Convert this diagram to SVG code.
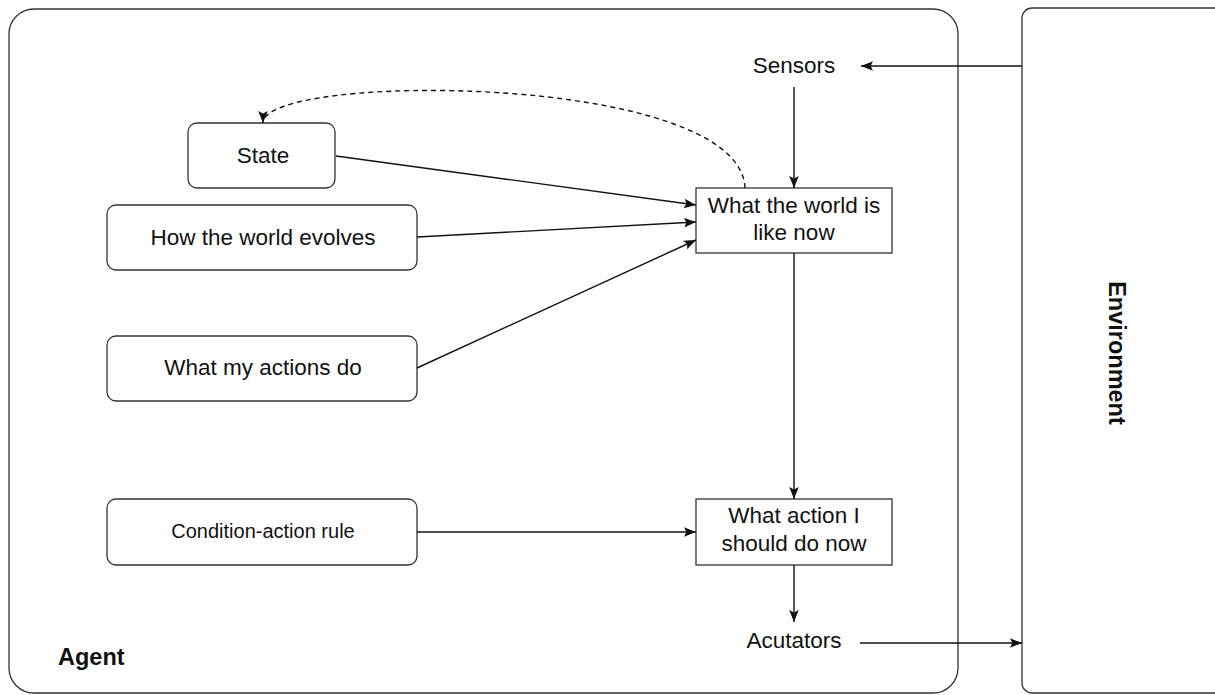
<svg xmlns="http://www.w3.org/2000/svg" width="1215" height="695" viewBox="0 0 1215 695">
<style>
.box{fill:#fff;stroke:#333;stroke-width:1.3}
.t{font-family:"Liberation Sans",Arial,sans-serif;font-size:22.5px;fill:#111;text-anchor:middle;dominant-baseline:central}
.s{font-size:20px}
.b{font-weight:bold;font-size:23.5px}
.c{fill:none;stroke:#111;stroke-width:1.4}
.d{stroke-dasharray:5 4}
</style>
<defs>
<marker id="ah" viewBox="0 0 10 10" refX="10" refY="5" markerWidth="12" markerHeight="12" markerUnits="userSpaceOnUse" orient="auto">
<path d="M0,1 L10,5 L0,9 L2,5 Z" fill="#111"/>
</marker>
</defs>
<g id="agent">
<rect class="box" x="9" y="9" width="949" height="684" rx="25"/>
<text class="t b" x="58" y="657" style="text-anchor:start">Agent</text>
</g>
<g id="environment">
<rect class="box" x="1022" y="8" width="220" height="685" rx="10"/>
<text class="t b" x="1117" y="353" transform="rotate(90 1117 353)">Environment</text>
</g>
<g id="sensors"><text class="t" x="794" y="65">Sensors</text></g>
<g id="acutators"><text class="t" x="794" y="640">Acutators</text></g>
<g id="state">
<rect class="box" x="188" y="123" width="147" height="65" rx="9"/>
<text class="t" x="263" y="155">State</text>
</g>
<g id="evolves">
<rect class="box" x="107" y="205" width="310" height="65" rx="9"/>
<text class="t" x="263" y="237">How the world evolves</text>
</g>
<g id="actions">
<rect class="box" x="107" y="336" width="310" height="65" rx="9"/>
<text class="t" x="263" y="367">What my actions do</text>
</g>
<g id="rule">
<rect class="box" x="107" y="499" width="310" height="66" rx="9"/>
<text class="t s" x="263" y="531">Condition-action rule</text>
</g>
<g id="world">
<rect class="box" x="696" y="188" width="196" height="65"/>
<text class="t" x="794" y="205">What the world is</text>
<text class="t" x="794" y="232">like now</text>
</g>
<g id="decide">
<rect class="box" x="696" y="499" width="196" height="66"/>
<text class="t" x="794" y="515">What action I</text>
<text class="t" x="794" y="543">should do now</text>
</g>
<g id="connectors">
<line class="c" x1="1022" y1="66" x2="861" y2="66" marker-end="url(#ah)"/>
<line class="c" x1="794" y1="87" x2="794" y2="188" marker-end="url(#ah)"/>
<line class="c" x1="794" y1="253" x2="794" y2="499" marker-end="url(#ah)"/>
<line class="c" x1="794" y1="565" x2="794" y2="622" marker-end="url(#ah)"/>
<line class="c" x1="860" y1="643" x2="1022" y2="643" marker-end="url(#ah)"/>
<line class="c" x1="336" y1="156" x2="696" y2="205" marker-end="url(#ah)"/>
<line class="c" x1="417" y1="237" x2="696" y2="222" marker-end="url(#ah)"/>
<line class="c" x1="417" y1="368" x2="696" y2="240" marker-end="url(#ah)"/>
<line class="c" x1="417" y1="532" x2="696" y2="532" marker-end="url(#ah)"/>
<path class="c d" d="M745,188 C740,72 263,72 263,123" marker-end="url(#ah)"/>
</g>
</svg>
